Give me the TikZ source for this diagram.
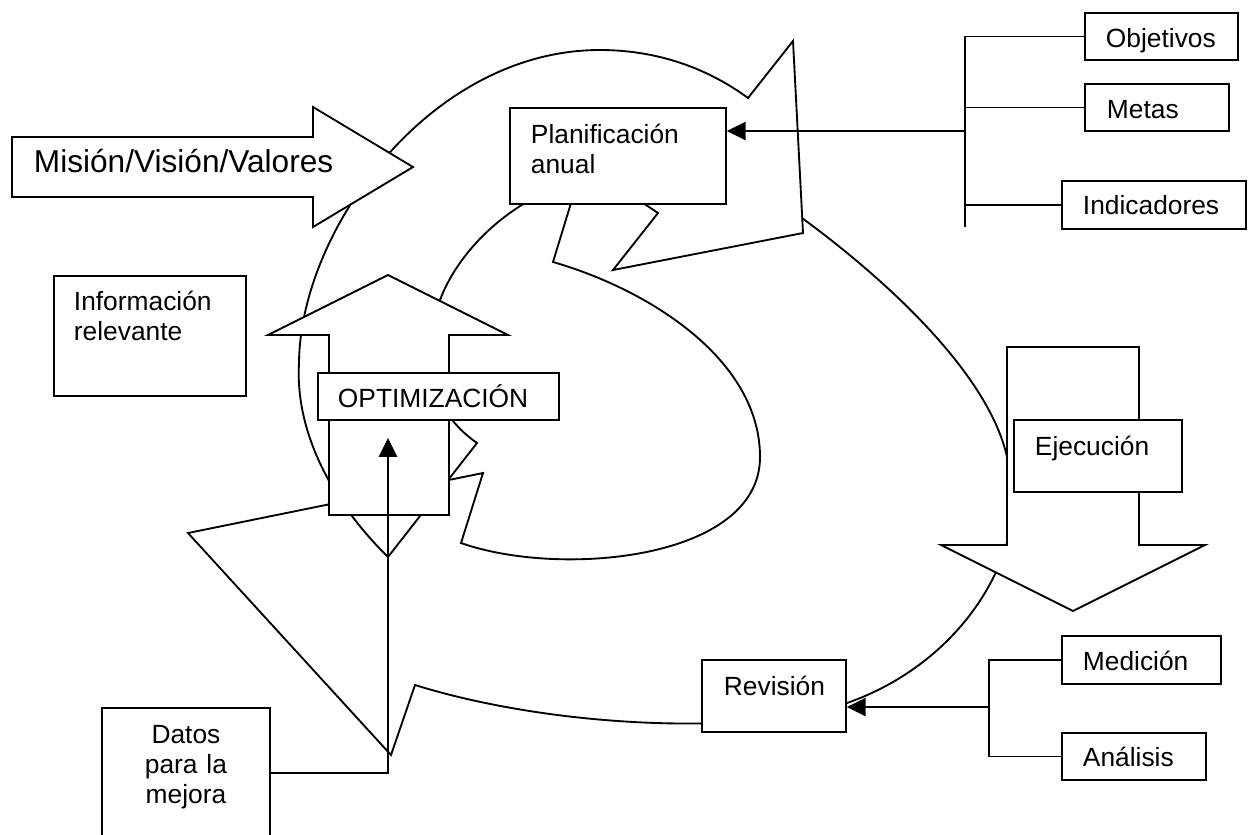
\documentclass[tikz,border=0pt]{standalone}
\usepackage{fontspec}
\setmainfont{Liberation Sans}
\usetikzlibrary{arrows.meta, calc}
\newlength\pxl
\setlength\pxl{0.016cm}
\tikzset{
    box/.style={draw, fill=white, anchor=north west, align=left, inner ysep=0pt,
        font=\fontsize{12}{13.6}\selectfont},
    bigarrow/.style={draw, fill=white},
    % outlines of the two swirling cycle arrows (no fill)
    loopline/.style={draw},
}

\begin{document}
\begin{tikzpicture}[x=0.016cm, y=-0.016cm, line width=0.85pt,
    >={Triangle[length=0.3cm, width=0.29cm]}]
    \useasboundingbox (0,0) rectangle (1251,834);

    % lower cycle arrow (Revision -> back to the left)
    \draw[loopline] (802,218) .. controls (900,290) and (990,380) .. (1007,457)
        .. controls (1035,540) and (970,660) .. (847,703)
        .. controls (760,735) and (560,730) .. (415,685)
        -- (391,755) -- (188,533) -- (483,473) -- (461,543)
        .. controls (560,578) and (760,560) .. (760,457)
        .. controls (760,360) and (650,290) .. (553,262)
        -- (571,203) -- (574,195);

    % upper cycle arrow (towards Planificacion)
    \draw[loopline] (388,557) .. controls (330,500) and (295,430) .. (299,363)
        .. controls (300,230) and (430,50) .. (600,50)
        .. controls (660,50) and (710,70) .. (748,98)
        -- (793,41) -- (803,233) -- (613,270) -- (658,213) -- (640,201);
    \draw[loopline] (532,199) .. controls (490,222) and (455,260) .. (440,300)
        .. controls (420,360) and (430,410) .. (477,443)
        -- (388,557);

    % block arrows
    \draw[bigarrow] (12,137) -- (313,137) -- (313,107) -- (413,167) -- (313,227) -- (313,197) -- (12,197) -- cycle;
    \node[anchor=base west, inner sep=0pt, font=\fontsize{14.4}{16}\selectfont] (mision) at (33,172) {Misión/Visión/Valores};
    \draw[bigarrow] (329,515) -- (449,515) -- (449,335) -- (508,335) -- (388,275) -- (268,335) -- (329,335) -- cycle;
    \draw[bigarrow] (1007,347) -- (1139,347) -- (1139,545) -- (1205,545) -- (1073,611) -- (941,545) -- (1007,545) -- cycle;

    % boxes
    \node[box, inner xsep=21\pxl, text width=174\pxl, text height=36\pxl, text depth=60\pxl] (plan) at (509,107) {Planificación\\anual};
    \node[box, inner xsep=21\pxl, text width=111\pxl, text height=35\pxl, text depth=12\pxl] (obj) at (1084,12) {Objetivos};
    \node[box, inner xsep=22\pxl, text width=100\pxl, text height=35\pxl, text depth=12\pxl] (metas) at (1084,83) {Metas};
    \node[box, inner xsep=21\pxl, text width=142\pxl, text height=34\pxl, text depth=14\pxl] (indic) at (1061,180) {Indicadores};
    \node[box, inner xsep=20\pxl, text width=152\pxl, text height=35\pxl, text depth=85\pxl] (info) at (53,275) {Información\\relevante};
    \node[box, inner xsep=20\pxl, text width=201\pxl, text height=35\pxl, text depth=12\pxl] (opt) at (317,372) {OPTIMIZACIÓN};
    \node[box, inner xsep=21\pxl, text width=126\pxl, text height=36\pxl, text depth=36\pxl] (ejec) at (1013,419) {Ejecución};
    \node[box, inner xsep=22\pxl, text width=100\pxl, text height=36\pxl, text depth=36\pxl] (rev) at (701,659) {Revisión};
    \node[box, inner xsep=21\pxl, text width=117\pxl, text height=35\pxl, text depth=13\pxl] (med) at (1061,635) {Medición};
    \node[box, inner xsep=21\pxl, text width=102\pxl, text height=34\pxl, text depth=13\pxl] (anal) at (1061,732) {Análisis};
    \node[box, align=center, inner xsep=0pt, text width=168\pxl, text height=36\pxl, text depth=94\pxl] (datos) at (101,707) {Datos\\para la\\mejora};

    % tree to Planificacion
    \coordinate (tjoin) at (965,131);
    \coordinate (tend) at (965,227);
    \draw (obj.west) -| (tend);
    \draw (metas.west) -- (metas.west -| tend);
    \draw (indic.west) -- (indic.west -| tend);
    \draw[->] (tjoin) -- (tjoin -| plan.east);

    % tree to Revision
    \coordinate (bjoin) at (989,707);
    \draw (med.west) -| (bjoin) |- (anal.west);
    \draw[->] (bjoin) -- (bjoin -| rev.east);

    % data back into optimization
    \coordinate (optin) at (388,438);
    \draw[->] (datos.east) -| (optin);
\end{tikzpicture}
\end{document}
